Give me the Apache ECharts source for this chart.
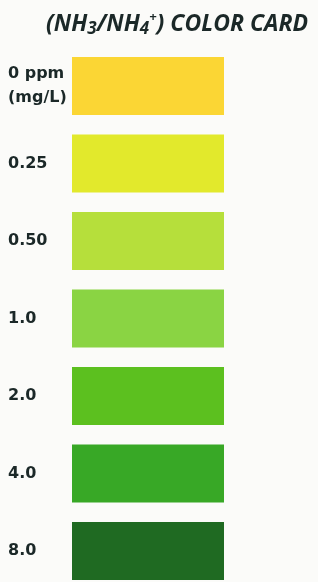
<!DOCTYPE html>
<html>
<head>
<meta charset="utf-8">
<style>
html,body{margin:0;padding:0;background:#fbfbf9;}
#chart{width:318px;height:582px;}
</style>
<script src="https://cdn.jsdelivr.net/npm/echarts@6/dist/echarts.min.js"></script>
</head>
<body>
<div id="chart"></div>
<script>
const categories = ['0 ppm\n(mg/L)', '0.25', '0.50', '1.0', '2.0', '4.0', '8.0'];
const swatchValues = [1, 1, 1, 1, 1, 1, 1];
const swatchColors = ['#fbd634', '#e2e92c', '#b6df3b', '#8ad443', '#5cc01f', '#38a826', '#1f6a22'];

const chart = echarts.init(document.getElementById('chart'), null, {renderer: 'canvas'});
chart.setOption({
  backgroundColor: '#fbfbf9',
  animation: false,
  title: {
    text: '(NH{sub|3}/NH{sub|4}{sup|+}) COLOR CARD',
    right: 5,
    top: 6,
    textStyle: {
      fontFamily: 'Open Sans',
      fontWeight: 'bold',
      fontStyle: 'italic',
      fontSize: 23,
      color: '#1b2828',
      rich: {
        sub: {fontFamily: 'Open Sans', fontWeight: 'bold', fontStyle: 'italic', fontSize: 17, color: '#1b2828', verticalAlign: 'bottom', padding: [10, 0, 0, 0]},
        sup: {fontFamily: 'Open Sans', fontWeight: 'bold', fontStyle: 'italic', fontSize: 13, color: '#1b2828', verticalAlign: 'top', padding: [0, 0, 9, 0]}
      }
    }
  },
  grid: {left: 72, width: 152, top: 86, height: 465},
  xAxis: {type: 'value', min: 0, max: 1, show: false},
  yAxis: {
    type: 'category',
    data: categories,
    inverse: true,
    boundaryGap: false,
    axisLine: {show: false},
    axisTick: {show: false},
    splitLine: {show: false},
    axisLabel: {
      align: 'left',
      margin: 64,
      fontFamily: 'DejaVu Sans',
      fontWeight: 'bold',
      fontSize: 16,
      lineHeight: 24,
      color: '#1b2828'
    }
  },
  series: [{
    type: 'bar',
    barWidth: 58,
    data: swatchValues.map((v, i) => ({value: v, itemStyle: {color: swatchColors[i]}})),
    silent: true
  }]
});
</script>
</body>
</html>
